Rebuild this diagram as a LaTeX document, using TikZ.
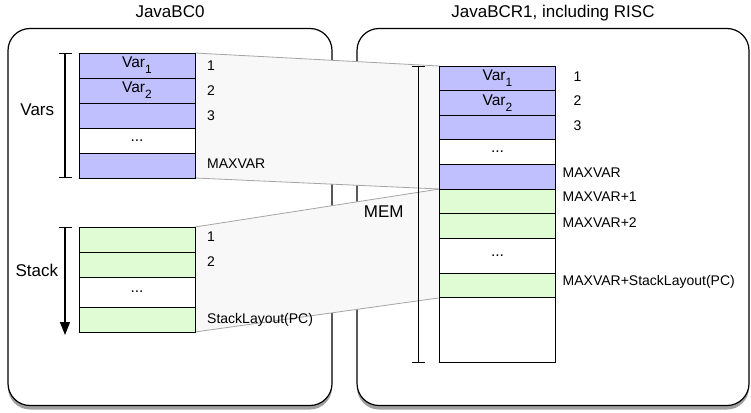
\documentclass[tikz,border=0pt]{standalone}
\usepackage{fontspec}
\setmainfont{Liberation Sans}
\usetikzlibrary{positioning,arrows.meta,shadows}
\pgfdeclarelayer{panels}
\pgfdeclarelayer{proj}
\pgfsetlayers{panels,proj,main}

\definecolor{varblue}{RGB}{192,192,255}
\definecolor{stackgreen}{RGB}{224,252,212}
\definecolor{projgray}{RGB}{165,165,165}
\definecolor{projfill}{RGB}{248,248,248}

\newcommand{\lowidx}[1]{\raisebox{-6pt}{\fontsize{12}{12}\selectfont #1}}

\begin{document}
\begin{tikzpicture}[x=1pt, y=-1pt, node distance=0pt]
            % Define styles
            \tikzstyle{panel} = [rectangle, draw, line width=1.2pt, fill=white, rounded corners=22pt, minimum width=324pt, minimum height=377pt, drop shadow={shadow xshift=0pt, shadow yshift=-4pt, opacity=0.75}]
            \tikzstyle{title} = [text depth=0pt, font=\fontsize{17}{20}\selectfont]
            \tikzstyle{cell} = [rectangle, draw, line width=0.9pt, minimum width=116pt, minimum height=25pt, inner sep=0pt, outer sep=0pt, font=\fontsize{15.5}{18}\selectfont]
            \tikzstyle{var} = [cell, fill=varblue]
            \tikzstyle{stk} = [cell, fill=stackgreen]
            \tikzstyle{free} = [cell, fill=white]
            \tikzstyle{idx} = [inner sep=0pt, font=\fontsize{14}{16}\selectfont]
            \tikzstyle{side} = [font=\fontsize{17}{20}\selectfont]
            \tikzstyle{proj} = [draw=projgray, line width=0.8pt]
            \tikzstyle{brace} = [line width=1.1pt, {Bar[width=13pt]}-{Bar[width=13pt]}]

            \useasboundingbox (0,0) rectangle (751,412);

            % PANELS
            \begin{pgfonlayer}{panels}
            \fill [white] (0,0) rectangle (751,412);
            \node (bc0) [panel] at (170,217) {};
            \node (bcr1) [panel, minimum width=392pt] at (553,217) {};
            \end{pgfonlayer}

            \node (t0) [title, above=7pt of bc0] {JavaBC0};
            \node (t1) [title, above=7pt of bcr1] {JavaBCR1, including RISC};

            % JavaBC0 (Left side)
            \node (v1) [var] at (137,65.5) {Var\lowidx{1}};
            \node (v2) [var, below=of v1] {Var\lowidx{2}};
            \node (v3) [var, below=of v2] {};
            \node (vdots) [free, below=of v3] {...};
            \node (vmax) [var, below=of vdots] {};

            \node (s1) [stk] at (137,239.5) {};
            \node (s2) [stk, below=of s1] {};
            \node (sdots) [free, minimum height=30pt, below=of s2] {...};
            \node (sn) [stk, below=of sdots] {};

            \node (i1) [idx, right=12pt of v1] {1};
            \node (i2) [idx, right=12pt of v2] {2};
            \node (i3) [idx, right=12pt of v3] {3};
            \node (imax) [idx, right=12pt of vmax, yshift=2pt] {MAXVAR};
            \node (j1) [idx, right=12pt of s1, yshift=3pt] {1};
            \node (j2) [idx, right=12pt of s2, yshift=3pt] {2};
            \node (jn) [idx, right=12pt of sn] {StackLayout(PC)};

            % JavaBCR1 (Right side)
            \node (m1) [var, minimum height=24.6pt] at (497.5,78.3) {Var\lowidx{1}};
            \node (m2) [var, minimum height=24.6pt, below=of m1] {Var\lowidx{2}};
            \node (m3) [var, minimum height=24.6pt, below=of m2] {};
            \node (mdots) [free, minimum height=24.6pt, below=of m3] {...};
            \node (mmax) [var, minimum height=24.6pt, below=of mdots] {};
            \node (ms1) [stk, minimum height=24.6pt, below=of mmax] {};
            \node (ms2) [stk, minimum height=24.6pt, below=of ms1] {};
            \node (msdots) [free, minimum height=35pt, below=of ms2] {...};
            \node (msn) [stk, minimum height=24.6pt, below=of msdots] {};
            \node (mfree) [free, minimum height=65pt, below=of msn] {};

            \node (n1) [idx, right=18pt of m1, yshift=2pt] {1};
            \node (n2) [idx, right=18pt of m2, yshift=2pt] {2};
            \node (n3) [idx, right=18pt of m3, yshift=2pt] {3};
            \node (nmax) [idx, right=7pt of mmax, yshift=4.5pt] {MAXVAR};
            \node (ns1) [idx, right=7pt of ms1, yshift=5pt] {MAXVAR+1};
            \node (ns2) [idx, right=7pt of ms2, yshift=3.5pt] {MAXVAR+2};
            \node (nsn) [idx, right=7pt of msn, yshift=3.5pt] {MAXVAR+StackLayout(PC)};

            % Brackets
            \draw [brace] ([xshift=-14pt]v1.north west) -- node (varslbl) [side, left=7pt, pos=0.45] {Vars} ([xshift=-14pt]vmax.south west);
            \draw [line width=1.1pt, {Bar[width=13pt]}-{Triangle[width=10pt, length=13pt]}] ([xshift=-14pt]s1.north west) -- node (stacklbl) [side, left=3pt, pos=0.4] {Stack} ([xshift=-14pt, yshift=-3pt]sn.south west);
            \draw [brace] ([xshift=-21pt]m1.north west) -- node (memlbl) [side, left=11pt, pos=0.49] {MEM} ([xshift=-21pt]mfree.south west);

            % Projections
            \begin{pgfonlayer}{proj}
            \fill [projfill] (v1.north east) -- (m1.north west) -- (mmax.south west) -- (vmax.south east) -- cycle;
            \fill [projfill] (s1.north east) -- (ms1.north west) -- (msn.south west) -- (sn.south east) -- cycle;
            \draw [proj] (v1.north east) -- (m1.north west);
            \draw [proj] (vmax.south east) -- (mmax.south west);
            \draw [proj] (s1.north east) -- (ms1.north west);
            \draw [proj] (sn.south east) -- (msn.south west);
            \end{pgfonlayer}

\end{tikzpicture}
\end{document}
